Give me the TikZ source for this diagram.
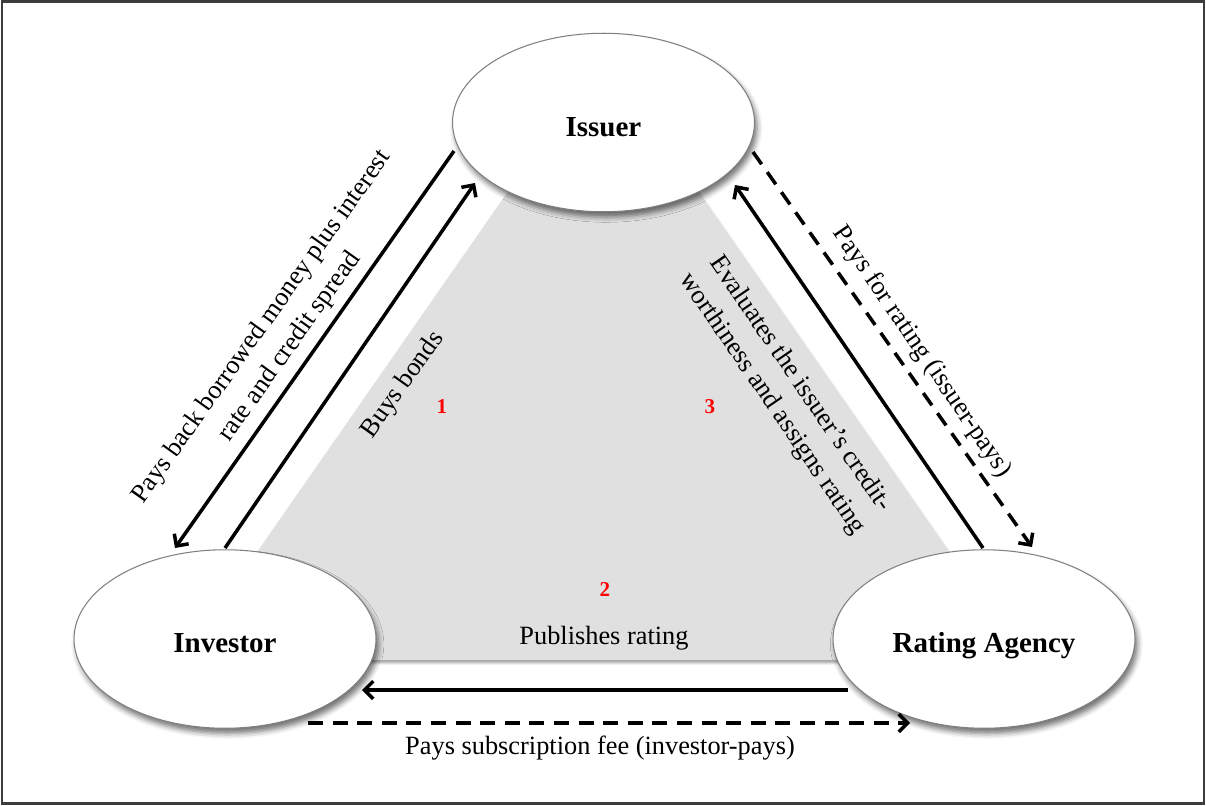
\documentclass[tikz,border=0pt]{standalone}
\usepackage{fontspec}
\setmainfont{Liberation Serif}
\usetikzlibrary{arrows.meta,shapes.geometric,shadows.blur}
\definecolor{trifill}{HTML}{E0E0E0}
\definecolor{framecol}{HTML}{3C3C3C}
\definecolor{ellborder}{HTML}{808080}
\begin{document}
\begin{tikzpicture}[x=0.02cm,y=-0.02cm,
  party/.style={ellipse, draw=ellborder, line width=0.6pt, fill=white,
    minimum width=6.04cm, minimum height=3.57cm,
    text height=19.6pt, text depth=4pt,
    font=\fontsize{16.5}{18}\selectfont\bfseries,
    blur shadow={shadow xshift=1.5pt, shadow yshift=-3pt, shadow blur radius=3pt, shadow opacity=55}},
  flow/.style={line width=2pt, -{Straight Barb[length=5pt,width=10pt]}},
  dflow/.style={flow, dash pattern=on 8.5pt off 5.5pt},
  lbl/.style={font=\fontsize{15}{19.5}\selectfont, align=center, inner sep=0pt},
  num/.style={font=\fontsize{12}{14}\selectfont\bfseries, text=red, inner sep=0pt}]
\useasboundingbox (0,0) rectangle (1206,805);
\draw[framecol, line width=1.2pt] (2,1.5) rectangle (1204,803.5);
\fill[trifill, blur shadow={shadow xshift=0.5pt, shadow yshift=-1.5pt, shadow blur radius=1.5pt, shadow opacity=40}]
  (603,55) -- (182,660) -- (1024,660) -- cycle;

\node[party] (issuer) at (603.5,122.5) {Issuer};
\node[party] (investor) at (225,639) {Investor};
\node[party] (agency) at (984,639) {Rating Agency};

\coordinate (pb1) at (454,151);  \coordinate (pb2) at (175,548);
\coordinate (bb1) at (225,548);  \coordinate (bb2) at (475,183);
\coordinate (ev1) at (983,548);  \coordinate (ev2) at (735,185);
\coordinate (pr1) at (753,152);  \coordinate (pr2) at (1032,547);
\coordinate (pub1) at (848,690); \coordinate (pub2) at (362,690);
\coordinate (sub1) at (308,723); \coordinate (sub2) at (910,723);

\draw[flow] (pb1) -- (pb2);
\draw[flow] (bb1) -- (bb2);
\draw[flow] (ev1) -- (ev2);
\draw[dflow] (pr1) -- (pr2);
\draw[flow] (pub1) -- (pub2);
\draw[dflow] (sub1) -- (sub2);

\node[lbl, rotate=54.5] (paysback) at (276,337) {Pays back borrowed money plus interest\\rate and credit spread};
\node[lbl, rotate=54.5] (buys) at (403,385) {Buys bonds};
\node[lbl, rotate=-55.6] (evaluates) at (786,394) {Evaluates the issuer’s credit-\\worthiness and assigns rating};
\node[lbl, rotate=-55.6] (paysfor) at (922,352) {Pays for rating (issuer-pays)};
\node[lbl] (publishes) at (604,638) {Publishes rating};
\node[lbl] (subscr) at (600,748) {Pays subscription fee (investor-pays)};

\node[num] (n1) at (442,407) {1};
\node[num] (n2) at (605,590) {2};
\node[num] (n3) at (710,407) {3};
\end{tikzpicture}
\end{document}
